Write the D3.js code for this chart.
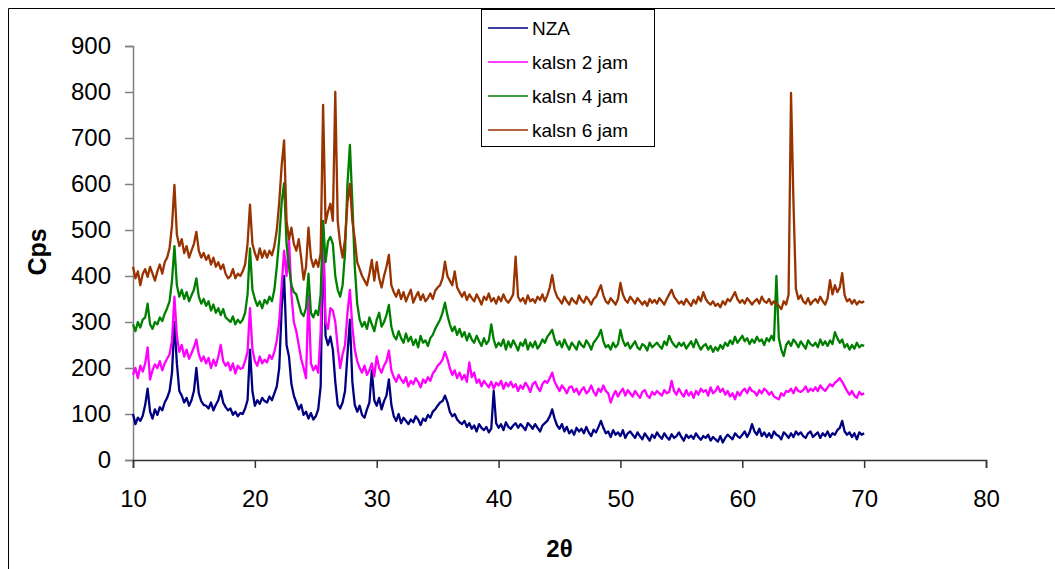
<!DOCTYPE html>
<html>
<head>
<meta charset="utf-8">
<script src="https://cdn.jsdelivr.net/npm/d3@7"></script>
<style>
    body { margin: 0; background: #fff; }
    svg { display: block; font-family: "Liberation Sans", Arial, sans-serif; }
</style>
</head>
<body>
<svg id="chart" width="1055" height="569"></svg>
<script>
// 2-theta scan, sampled every 0.2 deg from 10 to 70
var angleStart = 10,
    angleStep = 0.2;

var seriesNames = ["NZA", "kalsn 2 jam", "kalsn 4 jam", "kalsn 6 jam"];
var seriesColors = ["#000080", "#ff00ff", "#008000", "#993300"];

var xTicks = [10, 20, 30, 40, 50, 60, 70, 80];
var yTicks = [0, 100, 200, 300, 400, 500, 600, 700, 800, 900];

var nza = [
    100, 78, 92, 85, 96,
    120, 155, 105, 90, 110,
    98, 115, 108, 125, 135,
    150, 190, 300, 210, 150,
    140, 125, 135, 118, 130,
    150, 200, 145, 128, 120,
    118, 112, 125, 108, 120,
    130, 150, 125, 115, 108,
    112, 98, 105, 95, 102,
    100, 112, 130, 240, 150,
    118, 130, 122, 135, 128,
    125, 138, 130, 145, 160,
    200, 330, 400, 250, 225,
    165, 140, 125, 110, 120,
    98, 105, 90, 102, 88,
    95, 110, 160, 490, 270,
    250, 268, 240, 170, 120,
    112, 125, 150, 230, 305,
    170, 120, 105, 118, 98,
    92, 110, 125, 195, 130,
    118, 135, 110, 128, 140,
    175, 120, 95, 85, 100,
    80, 92, 85, 78, 88,
    82, 95, 88, 76, 90,
    85, 98, 92, 105, 110,
    118, 125, 128, 140, 126,
    105, 95, 100, 88, 82,
    78, 85, 72, 80, 68,
    75, 62, 78, 70, 65,
    72, 60, 68, 150, 80,
    70, 78, 65, 82, 72,
    68, 75, 80, 70, 78,
    72, 65, 80, 75, 68,
    78, 70, 62, 75, 80,
    85, 95, 110, 90, 75,
    68, 78, 62, 72, 58,
    65, 55, 70, 62, 68,
    58, 72, 60, 52, 66,
    60, 72, 85, 70, 58,
    62, 50, 65, 55, 60,
    52, 65, 48, 58, 62,
    55, 48, 60, 52, 45,
    58, 50, 42, 55, 48,
    60, 52, 46, 58, 50,
    44, 56, 48, 52, 60,
    50, 42, 55, 48, 53,
    46, 58, 50, 44, 52,
    48, 55, 42, 50, 45,
    40, 52, 38, 48, 55,
    50, 45, 58, 52, 48,
    55, 62, 50, 60, 78,
    62, 55, 68, 52, 60,
    50, 58, 48, 62, 55,
    52, 45, 60, 55, 48,
    58, 50, 62, 55, 60,
    52, 48, 58, 62, 50,
    55, 60, 48, 58, 52,
    62, 50, 58, 55, 65,
    70, 85, 62, 55, 60,
    50, 58, 45, 60, 55,
    58
];

var kalsn2 = [
    185, 200, 178, 205, 192,
    210, 245, 175, 195, 208,
    200, 215, 195, 210, 220,
    230, 260, 355, 270, 235,
    250, 225, 240, 220, 232,
    245, 262, 230, 215, 225,
    210, 222, 200, 218, 205,
    225, 250, 215, 205, 212,
    195, 210, 188, 205, 198,
    200, 215, 235, 330, 240,
    215, 205, 225, 210, 218,
    212, 228, 220, 235, 260,
    300, 380, 455, 400, 482,
    360, 300, 280, 250, 220,
    200, 178, 360, 210, 195,
    205, 190, 280, 510, 300,
    285, 330, 325, 300, 245,
    200, 230, 250, 320, 370,
    290, 240, 215, 200, 190,
    205, 185, 195, 210, 182,
    225, 200, 190, 205, 215,
    238, 195, 180, 170, 185,
    175, 168, 180, 160, 172,
    165, 178, 170, 158, 175,
    168, 180, 172, 188, 195,
    205, 210, 218, 235, 220,
    200, 185, 195, 178, 190,
    175, 185, 170, 212, 180,
    190, 168, 175, 160, 172,
    165, 158, 170, 155, 168,
    162, 172, 155, 168, 160,
    170, 158, 165, 150, 162,
    155, 168, 160, 148, 165,
    170, 158, 150, 165, 172,
    168, 178, 190, 170, 160,
    150, 162, 155, 145, 158,
    160, 148, 155, 142, 152,
    158, 145, 150, 162, 148,
    140, 155, 148, 162, 150,
    145, 125, 140, 150, 138,
    148, 155, 140, 152, 145,
    138, 150, 142, 135, 148,
    152, 140, 135, 148, 142,
    150, 145, 140, 152, 145,
    148, 172, 150, 142, 155,
    145, 138, 152, 140, 148,
    135, 150, 142, 155, 148,
    152, 140, 158, 145, 150,
    160, 148, 155, 142, 150,
    138, 145, 132, 148, 140,
    150, 155, 145, 158, 150,
    148, 140, 152, 145, 155,
    150, 142, 148, 138, 135,
    132, 145, 140, 150, 148,
    155, 145, 158, 150, 148,
    152, 160, 148, 155, 150,
    158, 150, 162, 155, 150,
    158, 165, 160, 168, 172,
    178, 170, 160, 150, 142,
    150, 140, 135, 148, 142,
    145
];

var kalsn4 = [
    295, 280, 300, 288, 305,
    310, 340, 295, 285, 300,
    295, 310, 302, 318, 330,
    345, 390, 465, 380, 355,
    370, 350, 365, 345, 358,
    370, 395, 355, 340, 350,
    335, 345, 325, 338, 320,
    330, 315, 328, 310, 305,
    300, 312, 295, 305, 298,
    305, 320, 360, 460, 370,
    350, 335, 345, 330, 348,
    340, 355, 345, 370, 420,
    480, 560, 602, 470, 420,
    380, 365, 360, 340, 320,
    313, 330, 405, 320, 310,
    325, 315, 360, 520, 430,
    475, 485, 470, 400, 370,
    355, 380, 450, 600, 685,
    560, 420, 340, 305, 290,
    300, 285, 310, 295, 280,
    305, 320, 290, 300, 315,
    337, 290, 270, 262, 280,
    265, 255, 275, 258, 268,
    250, 262, 245, 270, 255,
    260, 248, 265, 272, 285,
    295, 305, 320, 342, 315,
    295, 280, 290, 272, 285,
    268, 278, 260, 275, 262,
    255, 270, 258, 248, 265,
    252, 260, 295, 262, 245,
    255, 248, 262, 240, 258,
    245, 260, 250, 238, 255,
    248, 262, 240, 255, 245,
    258, 242, 250, 262, 255,
    268, 275, 283, 262, 250,
    258, 245, 262, 250, 240,
    255, 248, 240, 258, 250,
    245, 260, 252, 240, 255,
    262, 270, 283, 258, 245,
    250, 240, 255, 245, 252,
    283, 260, 248, 255, 242,
    250, 258, 245, 240, 252,
    248, 238, 255, 245, 250,
    255, 248, 242, 258, 250,
    270, 258, 250, 245, 255,
    248, 255, 242, 250, 258,
    245, 262, 250, 240, 248,
    252, 240, 248, 235, 245,
    238, 250, 242, 255, 248,
    260, 252, 268, 255, 262,
    270, 258, 265, 252, 262,
    255, 268, 258, 262, 250,
    265, 258, 270, 260, 400,
    265, 240, 226, 250, 258,
    248, 262, 255, 245, 258,
    250, 242, 260, 252, 248,
    255, 245, 262, 250, 258,
    248, 260, 252, 278, 265,
    255, 262, 245, 252, 240,
    250, 242, 255, 245, 250,
    248
];

var kalsn6 = [
    420, 395, 410, 380, 405,
    415, 398, 420, 405, 390,
    410, 425, 405, 430, 440,
    460, 510, 598, 490, 465,
    480, 450, 465, 440, 455,
    470, 496, 455, 440, 450,
    435, 445, 425, 440, 420,
    430, 415, 425, 405, 395,
    400, 415, 395, 405, 400,
    410, 425, 470, 555, 470,
    450, 435, 460, 440, 455,
    440, 455, 445, 465, 500,
    560, 640, 695, 520, 480,
    505, 470, 455, 480, 440,
    392, 420, 505, 440, 420,
    435, 420, 450, 772, 515,
    540, 557, 520, 800, 520,
    470, 440, 480, 560, 600,
    520, 480, 430, 415, 400,
    390, 380, 405, 435, 390,
    430, 395, 375, 400, 420,
    446, 380, 365, 355, 370,
    350, 365, 345, 358, 370,
    342, 355, 365, 348, 360,
    345, 352, 362, 350, 368,
    375, 380, 395, 431, 400,
    390, 380, 410, 375, 365,
    355, 365, 348, 360, 352,
    345, 360, 350, 338, 355,
    348, 362, 345, 352, 340,
    355, 345, 360, 348, 342,
    350, 360, 442, 355, 345,
    352, 340, 358, 345, 350,
    342, 355, 348, 360, 345,
    358, 375, 402, 370, 355,
    348, 340, 355, 345, 338,
    352, 345, 340, 358, 348,
    342, 355, 348, 338, 350,
    355, 368, 380, 358, 345,
    340, 352, 345, 338, 350,
    385, 360, 348, 342, 355,
    348, 340, 352, 345, 338,
    345, 335, 350, 342, 348,
    340, 352, 345, 338, 350,
    360, 370, 355, 348, 340,
    345, 338, 350, 342, 335,
    348, 340, 355, 345, 365,
    350, 342, 338, 345, 335,
    340, 332, 345, 338, 350,
    345, 355, 365, 350, 342,
    348, 340, 352, 345, 338,
    345, 350, 340, 355, 345,
    342, 350, 338, 345, 340,
    335, 328, 345, 338, 360,
    798, 560, 372, 350, 358,
    345, 340, 352, 338, 345,
    350, 342, 355, 345, 338,
    352, 391, 360, 380, 365,
    375, 406, 358, 345, 350,
    340, 348, 338, 345, 342,
    345
];

var seriesValues = [nza, kalsn2, kalsn4, kalsn6];

var svg = d3.select("#chart"),
    margin = {
        top: 46,
        right: 69,
        bottom: 109,
        left: 133
    },
    width = +svg.attr("width") - margin.left - margin.right,
    height = +svg.attr("height") - margin.top - margin.bottom,
    g = svg.append("g").attr("transform", "translate(" + margin.left + "," + margin.top + ")");

// outer frame edges (left and top only are visible)
svg.append("line")
    .attr("x1", 8.5).attr("y1", 8.5).attr("x2", 8.5).attr("y2", 569)
    .attr("stroke", "#000").attr("stroke-width", 1);
svg.append("line")
    .attr("x1", 8.5).attr("y1", 8.5).attr("x2", 1055).attr("y2", 8.5)
    .attr("stroke", "#000").attr("stroke-width", 1);

var x = d3.scaleLinear()
    .domain([10, 80])
    .range([0, width]);

var y = d3.scaleLinear()
    .domain([0, 900])
    .range([height, 0]);

// y axis
g.append("g")
    .attr("class", "axis")
    .call(d3.axisLeft(y)
        .tickValues(yTicks)
        .tickSize(8)
        .tickPadding(14))
    .call(g => g.select(".domain").attr("stroke", "#808080").attr("stroke-width", 1.5))
    .call(g => g.selectAll(".tick line").attr("stroke", "#808080").attr("stroke-width", 1.5))
    .call(g => g.selectAll(".tick text")
        .attr("font-size", 24)
        .attr("font-family", "Liberation Sans, Arial, sans-serif")
        .attr("fill", "#000"));

// x axis
g.append("g")
    .attr("class", "axis")
    .attr("transform", "translate(0," + height + ")")
    .call(d3.axisBottom(x)
        .tickValues(xTicks)
        .tickSize(8)
        .tickPadding(22))
    .call(g => g.select(".domain").attr("stroke", "#333").attr("stroke-width", 1.5))
    .call(g => g.selectAll(".tick line").attr("stroke", "#333").attr("stroke-width", 1.5))
    .call(g => g.selectAll(".tick text")
        .attr("font-size", 24)
        .attr("font-family", "Liberation Sans, Arial, sans-serif")
        .attr("fill", "#000"));

// axis titles
svg.append("text")
    .attr("x", margin.left + x(45))
    .attr("y", 557)
    .attr("text-anchor", "middle")
    .attr("font-size", 24)
    .attr("font-weight", "bold")
    .text("2θ");

svg.append("text")
    .attr("transform", "translate(46,252) rotate(-90)")
    .attr("text-anchor", "middle")
    .attr("font-size", 25)
    .attr("font-weight", "bold")
    .text("Cps");

var line = d3.line()
    .x(function (d, i) {
        return x(angleStart + i * angleStep);
    })
    .y(function (d) {
        return y(d);
    });

g.append("g")
    .selectAll("path")
    .data(seriesValues)
    .enter().append("path")
    .attr("fill", "none")
    .attr("stroke", function (d, i) {
        return seriesColors[i];
    })
    .attr("stroke-width", 2.3)
    .attr("stroke-linejoin", "round")
    .attr("d", line);

// legend
var legend = svg.append("g")
    .attr("transform", "translate(481,9)");

legend.append("rect")
    .attr("x", 0.5)
    .attr("y", 0.5)
    .attr("width", 173)
    .attr("height", 137)
    .attr("fill", "#fff")
    .attr("stroke", "#000")
    .attr("stroke-width", 1);

var item = legend.selectAll(".item")
    .data(seriesNames)
    .enter().append("g")
    .attr("class", "item")
    .attr("transform", function (d, i) {
        return "translate(0," + (19 + i * 34) + ")";
    });

item.append("line")
    .attr("x1", 7)
    .attr("x2", 47)
    .attr("stroke", function (d, i) {
        return seriesColors[i];
    })
    .attr("stroke-width", 1.5);

item.append("text")
    .attr("x", 51)
    .attr("y", 0)
    .attr("dy", "0.35em")
    .attr("font-size", 19)
    .text(function (d) {
        return d;
    });
</script>
</body>
</html>
